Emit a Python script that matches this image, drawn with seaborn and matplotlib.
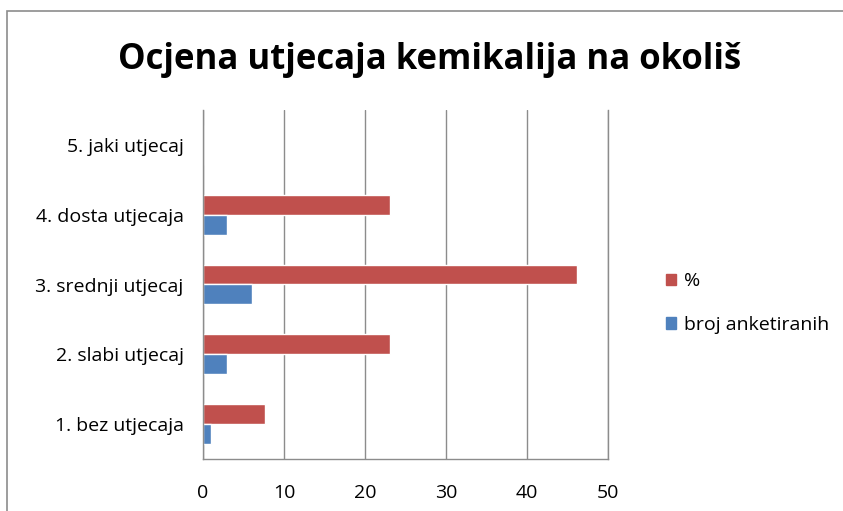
import matplotlib
matplotlib.use("Agg")
import matplotlib.pyplot as plt
import matplotlib.patches as mpatches
import pandas as pd
import seaborn as sns

# ── Data ─────────────────────────────────────────────────────────────────────
categories = ["5. jaki utjecaj", "4. dosta utjecaja", "3. srednji utjecaj",
              "2. slabi utjecaj", "1. bez utjecaja"]
postotak   = [0, 23.08, 46.15, 23.08, 7.69]
broj       = [0, 3, 6, 3, 1]
series     = ["%", "broj anketiranih"]
colors     = ["#C0504D", "#4F81BD"]
xticks     = [0, 10, 20, 30, 40, 50]

df = pd.DataFrame({
    "kategorija": categories * 2,
    "serija": [series[0]] * len(categories) + [series[1]] * len(categories),
    "vrijednost": postotak + broj,
})

sns.set_style("white")
plt.rcParams["font.family"] = ["Open Sans", "DejaVu Sans"]
plt.rcParams["text.color"] = "black"

GRID = "#8c8c8c"

fig = plt.figure(figsize=(8.43, 5.11), dpi=100)
ax = fig.add_axes([203 / 843, 1 - 459 / 511, 405 / 843, 349 / 511])

sns.barplot(data=df, y="kategorija", x="vrijednost", hue="serija",
            order=categories, hue_order=series, palette=colors,
            orient="h", width=0.57, saturation=1, ax=ax, legend=False)

ax.set_xlim(0, 50)
ax.set_xticks(xticks)
ax.set_xlabel(""); ax.set_ylabel("")
ax.grid(axis="x", color=GRID, linewidth=1)
ax.set_axisbelow(True)
ax.spines["top"].set_visible(False)
for side in ["left", "bottom", "right"]:
    ax.spines[side].set_color(GRID)
    ax.spines[side].set_linewidth(1)
ax.tick_params(axis="both", length=0, labelsize=14, colors="black")
ax.tick_params(axis="x", pad=18)
ax.tick_params(axis="y", pad=14)

fig.text(0.510, 1 - 60 / 511, "Ocjena utjecaja kemikalija na okoliš",
         ha="center", va="center", fontsize=25, fontweight="bold",
         color="black")

handles = [mpatches.Patch(color=c, label=s) for c, s in zip(colors, series)]
fig.legend(handles=handles, loc="center left",
           bbox_to_anchor=(648 / 843, 1 - 303 / 511), frameon=False,
           fontsize=14, handlelength=0.55, handleheight=0.55,
           handletextpad=0.4, labelspacing=1.3)

# outer chart frame
fig.patches.append(mpatches.Rectangle((7 / 843, -0.1), 1.2, 1.1 - 11 / 511,
                                      transform=fig.transFigure, fill=False,
                                      edgecolor=GRID, linewidth=1.2))

fig.savefig("out.png", dpi=100, facecolor="white")
